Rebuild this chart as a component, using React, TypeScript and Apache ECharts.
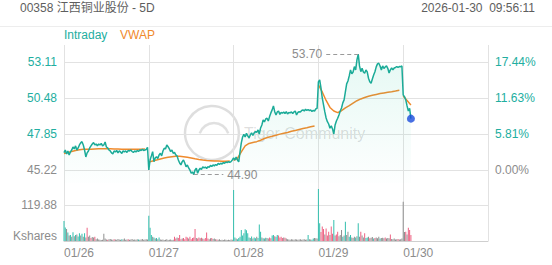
import React, { useEffect, useRef } from "react";
import * as echarts from "echarts";

// ---------- data ----------
const title = "00358 江西铜业股份 - 5D";
const timestamp = "2026-01-30  09:56:11";
const dayLabels = ["01/26", "01/27", "01/28", "01/29", "01/30"];
const slotsPerDay = 66; // 5-minute slots per trading day
const vwapStep = 3; // vwap sampled every 3 slots
const prevClose = 45.22;
const priceTicks = [45.22, 47.85, 50.48, 53.11];
const pctTicks = ["0.00%", "5.81%", "11.63%", "17.44%"];
const volumeTicks = [0, 119.88];

const priceDay1 = [46.51, 46.70, 46.41, 46.63, 46.34, 46.56, 46.70, 46.92, 46.78, 47.00, 46.70, 46.85, 47.07, 47.22, 47.31, 47.07, 46.70, 46.19, 46.49, 46.63, 46.85, 47.00, 47.14, 47.24, 47.07, 47.14, 47.00, 47.14, 47.07, 47.18, 47.00, 47.07, 47.29, 46.92, 46.85, 46.70, 46.63, 46.49, 46.41, 46.63, 46.56, 46.67, 46.49, 46.63, 46.56, 46.45, 46.63, 46.56, 46.63, 46.52, 46.67, 46.63, 46.70, 46.59, 46.52, 46.63, 46.56, 46.67, 46.59, 46.70, 46.67, 46.74, 46.67, 46.70, 46.74, 46.89];
const priceDay2 = [45.24, 45.97, 46.27, 46.58, 45.85, 46.12, 46.21, 46.08, 46.34, 46.46, 46.27, 46.63, 46.83, 46.78, 47.07, 46.94, 46.78, 46.58, 46.70, 46.46, 46.52, 46.34, 46.27, 45.97, 45.75, 45.61, 45.85, 45.97, 45.75, 45.48, 45.61, 45.39, 45.24, 45.00, 45.10, 44.90, 45.24, 45.37, 45.00, 45.24, 45.37, 45.28, 45.48, 45.39, 45.46, 45.35, 45.48, 45.43, 45.57, 45.50, 45.61, 45.54, 45.64, 45.57, 45.72, 45.64, 45.73, 45.68, 45.78, 45.73, 45.83, 45.78, 45.85, 45.79, 45.85, 45.97];
const priceDay3 = [46.12, 45.97, 46.19, 45.97, 45.83, 46.56, 47.22, 47.65, 47.84, 47.65, 47.92, 47.73, 47.58, 47.80, 47.95, 47.76, 47.95, 48.04, 47.98, 48.17, 47.87, 48.31, 48.53, 48.90, 48.75, 48.97, 49.02, 48.82, 49.14, 49.41, 49.63, 49.92, 49.50, 49.26, 49.48, 49.55, 49.30, 49.44, 49.39, 49.48, 49.37, 49.50, 49.33, 49.44, 49.41, 49.48, 49.37, 49.48, 49.55, 49.26, 49.44, 49.50, 49.48, 49.59, 49.63, 49.55, 49.68, 49.59, 49.66, 49.57, 49.63, 49.52, 49.59, 49.55, 49.70, 49.75];
const priceDay4 = [51.67, 51.82, 51.23, 50.50, 49.99, 49.48, 49.04, 48.77, 48.60, 48.29, 48.46, 48.24, 47.87, 48.53, 48.82, 49.02, 49.26, 49.55, 49.77, 50.14, 50.36, 50.94, 51.53, 51.74, 52.11, 52.55, 52.26, 52.40, 52.79, 52.55, 53.28, 53.70, 52.84, 52.42, 52.67, 52.40, 52.31, 52.55, 52.40, 51.94, 51.69, 51.58, 51.89, 52.18, 52.42, 52.77, 52.99, 53.04, 52.84, 52.55, 52.84, 52.66, 52.77, 52.84, 52.67, 52.33, 52.55, 52.69, 52.55, 52.69, 52.73, 52.79, 52.73, 52.80, 52.79, 52.84];
const priceDay5 = [50.72, 50.60, 50.36, 49.92, 49.55, 49.74, 48.99];

const vwapDay1 = [46.45, 46.52, 46.59, 46.67, 46.72, 46.76, 46.76, 46.76, 46.78, 46.79, 46.80, 46.80, 46.79, 46.78, 46.77, 46.76, 46.76, 46.76, 46.76, 46.76, 46.76, 46.77];
const vwapDay2 = [45.83, 45.90, 45.97, 46.05, 46.12, 46.17, 46.21, 46.24, 46.24, 46.21, 46.17, 46.12, 46.06, 46.01, 45.97, 45.94, 45.92, 45.90, 45.89, 45.88, 45.88, 45.89];
const vwapDay3 = [45.94, 46.08, 46.56, 47.00, 47.18, 47.25, 47.31, 47.41, 47.54, 47.63, 47.70, 47.78, 47.86, 47.92, 47.98, 48.07, 48.13, 48.20, 48.27, 48.33, 48.40, 48.46];
const vwapDay4 = [51.45, 50.94, 50.32, 49.81, 49.55, 49.43, 49.57, 49.77, 49.94, 50.12, 50.30, 50.43, 50.54, 50.63, 50.70, 50.76, 50.82, 50.87, 50.92, 50.96, 51.01, 51.07];
const vwapDay5 = [50.65, 50.32, 49.99];

const volDay1 = [67, 45, 40, 28, 18, 20, 14, 29, 16, 20, 22, 15, 26, 18, 24, 14, 26, 12, 44, 14, 18, 10, 13, 12, 14, 6, 8, 5, 4, 3, 4, 24, 8, 5, 4, 6, 7, 5, 4, 6, 5, 4, 7, 5, 4, 6, 5, 8, 4, 5, 6, 4, 5, 7, 4, 5, 4, 6, 5, 4, 5, 7, 4, 5, 6, 5];
const volDay2 = [84, 44, 20, 14, 12, 8, 10, 6, 12, 5, 4, 5, 3, 4, 6, 3, 4, 5, 3, 4, 14, 8, 12, 10, 20, 6, 8, 10, 6, 14, 12, 8, 14, 6, 10, 12, 40, 10, 8, 12, 9, 11, 8, 6, 10, 28, 8, 6, 9, 10, 7, 8, 6, 5, 4, 6, 3, 4, 3, 5, 4, 3, 4, 3, 5, 4];
const volDay3 = [170, 12, 8, 6, 10, 14, 37, 18, 26, 39, 36, 26, 12, 10, 15, 8, 12, 9, 14, 10, 55, 31, 12, 9, 8, 11, 10, 8, 12, 9, 18, 20, 16, 14, 20, 18, 12, 14, 10, 12, 11, 8, 6, 5, 4, 6, 5, 4, 6, 5, 4, 5, 6, 4, 5, 6, 4, 5, 20, 6, 5, 4, 8, 10, 9, 8];
const volDay4 = [173, 59, 30, 48, 40, 22, 42, 18, 31, 20, 48, 24, 70, 18, 22, 31, 16, 20, 37, 14, 18, 64, 20, 31, 14, 20, 12, 10, 14, 12, 16, 59, 14, 31, 18, 12, 26, 10, 12, 14, 9, 11, 13, 8, 10, 12, 9, 14, 8, 10, 11, 9, 12, 8, 10, 9, 22, 7, 6, 8, 5, 6, 7, 5, 6, 8];
const volDay5 = [131, 30, 31, 22, 44, 37, 20];

// bar tone per slot: u = up, d = down, n = unchanged
const toneDay1 = "uununununu" + "nuununundn" + "ndnndnnnnn" + "nnnndnnnnd" + "nnnnnunnnn" + "dnnnnnnnun" + "nnnnnn";
const toneDay2 = "uuunununun" + "nnnnnnnnnn" + "ddndddnddd" + "dndddddndd" + "ndnddddnnd" + "nnndnnnnnn" + "nnnnnn";
const toneDay3 = "uunuuuuuuu" + "uuununuunu" + "uunununndd" + "uuduuddddn" + "dnnnnnnnnn" + "nnnnnnnnun" + "nuunnn";
const toneDay4 = "uudddndddn" + "ddunddnnnu" + "nunnuunnnu" + "nundnnduun" + "dnnudnnnun" + "nndnnndnnn" + "nndnnn";
const toneDay5 = "nndnddd";

const priceDays = [priceDay1, priceDay2, priceDay3, priceDay4, priceDay5];
const vwapDays = [vwapDay1, vwapDay2, vwapDay3, vwapDay4, vwapDay5];
const volDays = [volDay1, volDay2, volDay3, volDay4, volDay5];
const toneDays = [toneDay1, toneDay2, toneDay3, toneDay4, toneDay5];

// ---------- styles ----------
const FONT = "'Liberation Sans', Arial, 'Noto Sans CJK SC', sans-serif";
const TEAL = "#1bab98";
const TEAL_TEXT = "#22aea0";
const ORANGE = "#f08a2c";
const GRAY_TEXT = "#8c8c8c";
const GRID_LINE = "#e2e2e2";
const TONE_COLORS: Record<string, string> = { u: "#33bfae", d: "#ee6283", n: "#8f8f8f" };
const PRICE_MIN = 44.29;
const PRICE_MAX = 54.37;
const VOL_MAX = 193.14;

export default function App() {
  const ref = useRef<HTMLDivElement>(null);

  useEffect(() => {
    if (!ref.current) return;
    const chart = echarts.init(ref.current, undefined, { renderer: "svg" });

    const totalSlots = slotsPerDay * dayLabels.length;
    const priceData: number[][] = priceDays.flatMap((arr, d) => arr.map((p, j) => [d * slotsPerDay + j, p]));
    const vwapData: any[] = [];
    vwapDays.forEach((arr, d) => {
      arr.forEach((v, k) => vwapData.push([d * slotsPerDay + k * vwapStep, v]));
      vwapData.push([d * slotsPerDay + slotsPerDay - 0.5, "-"]);
    });
    const volData = volDays.flatMap((arr, d) =>
      arr.map((v, j) => ({
        value: [d * slotsPerDay + j, v],
        itemStyle: { color: TONE_COLORS[toneDays[d][j] || "n"] },
      }))
    );

    let maxI = 0, minI = 0;
    priceData.forEach((p, i) => {
      if (p[1] > priceData[maxI][1]) maxI = i;
      if (p[1] < priceData[minI][1]) minI = i;
    });
    const [maxX, maxP] = priceData[maxI];
    const [minX, minP] = priceData[minI];
    const last = priceData[priceData.length - 1];

    const nearestTick = (v: number) => priceTicks.findIndex((t) => Math.abs(t - v) < 0.005);
    const priceColor = (v: any) => (Number(v) > prevClose + 0.001 ? TEAL_TEXT : GRAY_TEXT);

    chart.setOption({
      animation: false,
      textStyle: { fontFamily: FONT },
      grid: [
        { left: 64, right: 64, top: 45, height: 138 },
        { left: 64, right: 64, top: 183, height: 58 },
      ],
      xAxis: [
        {
          type: "value", gridIndex: 0, min: 0, max: totalSlots, interval: slotsPerDay,
          axisLabel: { show: false }, axisTick: { show: false }, axisLine: { show: false },
          splitLine: { show: true, lineStyle: { color: GRID_LINE, width: 1 } },
        },
        {
          type: "value", gridIndex: 1, min: 0, max: totalSlots, interval: slotsPerDay,
          axisLabel: {
            show: true, align: "left", margin: 6, fontSize: 12, color: GRAY_TEXT, fontFamily: FONT,
            formatter: (v: number) => dayLabels[Math.round(v / slotsPerDay)] ?? "",
          },
          axisTick: { show: false },
          axisLine: { show: true, lineStyle: { color: "#cfcfcf" } },
          splitLine: { show: true, lineStyle: { color: GRID_LINE, width: 1 } },
        },
      ],
      yAxis: [
        {
          type: "value", gridIndex: 0, position: "left", min: PRICE_MIN, max: PRICE_MAX,
          axisLabel: {
            customValues: priceTicks, margin: 7, fontSize: 12, fontFamily: FONT,
            formatter: (v: number) => Number(v).toFixed(2), color: priceColor,
          },
          axisTick: { show: false, customValues: priceTicks },
          axisLine: { show: false },
          splitLine: { show: true, lineStyle: { color: GRID_LINE, width: 1 } },
        },
        {
          type: "value", gridIndex: 0, position: "right", min: PRICE_MIN, max: PRICE_MAX,
          axisLabel: {
            customValues: priceTicks, margin: 7, fontSize: 12, fontFamily: FONT,
            formatter: (v: number) => pctTicks[nearestTick(Number(v))] ?? "", color: priceColor,
          },
          axisTick: { show: false, customValues: priceTicks },
          axisLine: { show: false },
          splitLine: { show: false },
        },
        {
          type: "value", gridIndex: 1, position: "left", min: 0, max: VOL_MAX,
          axisLabel: {
            customValues: volumeTicks, margin: 7, fontSize: 12, color: GRAY_TEXT, fontFamily: FONT,
            formatter: (v: number) => (Number(v) === 0 ? "{k|Kshares}" : Number(v).toFixed(2)),
            rich: { k: { fontSize: 12, color: GRAY_TEXT, fontFamily: FONT, padding: [0, 0, 10, 0] } },
          },
          axisTick: { show: false, customValues: volumeTicks },
          axisLine: { show: false },
          splitLine: { show: true, lineStyle: { color: GRID_LINE, width: 1 } },
        },
      ],
      graphic: [
        { type: "line", silent: true, shape: { x1: 0, y1: 26.5, x2: 552, y2: 26.5 }, style: { stroke: "#ededed", lineWidth: 1 } },
        { type: "text", silent: true, x: 20, y: 8, style: { text: title, fill: "#5e5e5e", fontSize: 12, fontFamily: FONT, verticalAlign: "middle" } },
        { type: "text", silent: true, x: 535, y: 8, style: { text: timestamp, fill: "#5e5e5e", fontSize: 12, fontFamily: FONT, align: "right", verticalAlign: "middle" } },
        { type: "text", silent: true, x: 64, y: 35, style: { text: "Intraday", fill: TEAL_TEXT, fontSize: 12, fontFamily: FONT, verticalAlign: "middle" } },
        { type: "text", silent: true, x: 120, y: 35, style: { text: "VWAP", fill: ORANGE, fontSize: 12, fontFamily: FONT, verticalAlign: "middle" } },
        { type: "circle", silent: true, z: 0, shape: { cx: 212, cy: 133, r: 27 }, style: { fill: "none", stroke: "rgba(0,0,0,0.13)", lineWidth: 2.5 } },
        { type: "arc", silent: true, z: 0, shape: { cx: 214, cy: 138, r: 15, startAngle: Math.PI * 1.1, endAngle: Math.PI * 1.9 }, style: { fill: "none", stroke: "rgba(0,0,0,0.12)", lineWidth: 2.5 } },
        { type: "text", silent: true, z: 0, x: 244, y: 133, style: { text: "Tiger Community", fill: "rgba(0,0,0,0.14)", fontSize: 16, fontFamily: FONT, verticalAlign: "middle" } },
      ],
      series: [
        {
          name: "Intraday", type: "line", xAxisIndex: 0, yAxisIndex: 0, data: priceData,
          symbol: "none", showSymbol: false, z: 3,
          lineStyle: { color: TEAL, width: 1.5 },
          areaStyle: {
            color: new echarts.graphic.LinearGradient(0, 0, 0, 1, [
              { offset: 0, color: "rgba(40,200,160,0.17)" },
              { offset: 1, color: "rgba(40,200,160,0.01)" },
            ]),
          },
          markLine: {
            silent: true, symbol: ["none", "none"], animation: false,
            lineStyle: { color: "#9a9a9a", type: [4, 3], width: 1 },
            label: { show: true, position: "end", distance: 4, color: GRAY_TEXT, fontSize: 12, fontFamily: FONT, formatter: (p: any) => Number(p.value).toFixed(2) },
            data: [
              [{ coord: [maxX, maxP], value: maxP }, { coord: [maxX - 25, maxP], value: maxP }],
              [{ coord: [minX, minP], value: minP }, { coord: [minX + 23, minP], value: minP }],
            ],
          },
        },
        {
          name: "VWAP", type: "line", xAxisIndex: 0, yAxisIndex: 0, data: vwapData,
          symbol: "none", showSymbol: false, z: 2, connectNulls: false,
          lineStyle: { color: ORANGE, width: 1.5 },
        },
        {
          name: "Last", type: "scatter", xAxisIndex: 0, yAxisIndex: 0, data: [last],
          symbolSize: 8, z: 5, itemStyle: { color: "#1a4bdc" },
        },
        {
          name: "Volume", type: "bar", xAxisIndex: 1, yAxisIndex: 2, data: volData,
          barWidth: 1, barGap: "-100%",
        },
      ],
    });

    return () => chart.dispose();
  }, []);

  return (
    <div
      ref={ref}
      style={{ position: "fixed", left: 0, top: 0, width: 552, height: 265, background: "#fff" }}
    />
  );
}
